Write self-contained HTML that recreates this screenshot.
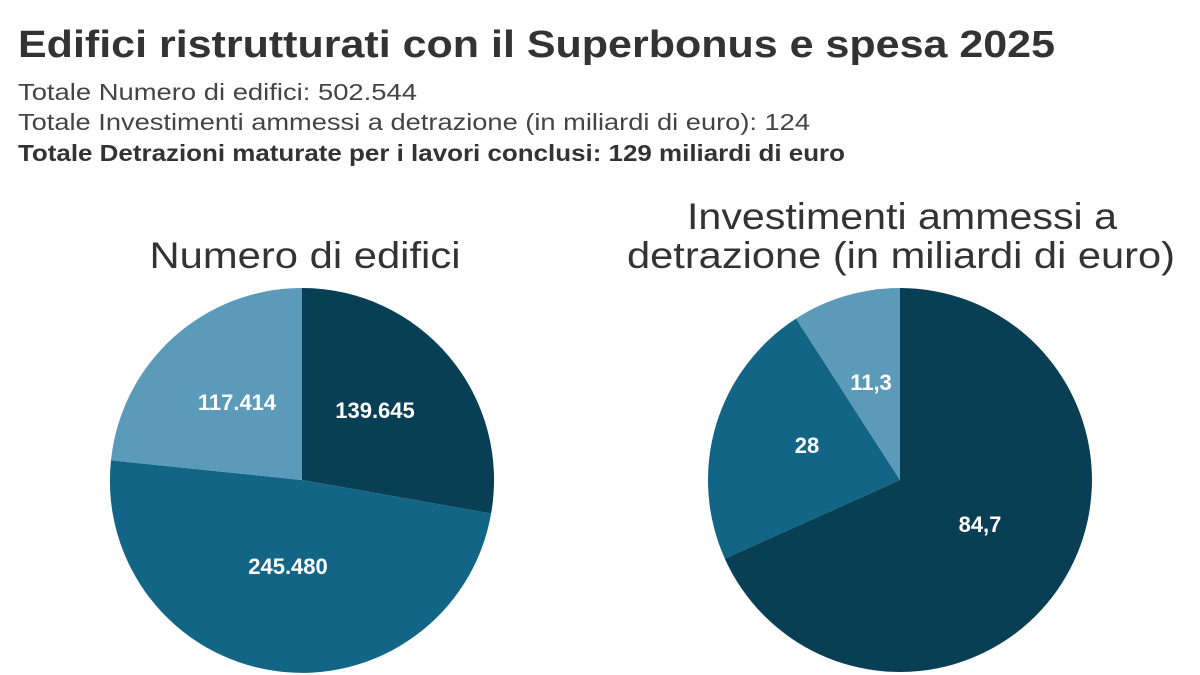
<!DOCTYPE html>
<html><head><meta charset="utf-8"><style>html,body{margin:0;padding:0;background:#fff}svg{display:block}</style></head>
<body>
<svg width="1200" height="675" viewBox="0 0 1200 675" xmlns="http://www.w3.org/2000/svg" font-family="'Liberation Sans', sans-serif">
<rect width="1200" height="675" fill="#fff"/>
<text x="18" y="57" font-size="38" font-weight="bold" fill="#333" textLength="1037" lengthAdjust="spacingAndGlyphs">Edifici ristrutturati con il Superbonus e spesa 2025</text>
<text x="18" y="100" font-size="23" fill="#444" textLength="399" lengthAdjust="spacingAndGlyphs">Totale Numero di edifici: 502.544</text>
<text x="18" y="130" font-size="23" fill="#444" textLength="792" lengthAdjust="spacingAndGlyphs">Totale Investimenti ammessi a detrazione (in miliardi di euro): 124</text>
<text x="18" y="161" font-size="23" font-weight="bold" fill="#333" textLength="827" lengthAdjust="spacingAndGlyphs">Totale Detrazioni maturate per i lavori conclusi: 129 miliardi di euro</text>

<text x="305" y="268" font-size="37" fill="#333" text-anchor="middle" textLength="311" lengthAdjust="spacingAndGlyphs">Numero di edifici</text>
<text x="902" y="229" font-size="37" fill="#333" text-anchor="middle" textLength="430" lengthAdjust="spacingAndGlyphs">Investimenti ammessi a</text>
<text x="901" y="268" font-size="37" fill="#333" text-anchor="middle" textLength="548" lengthAdjust="spacingAndGlyphs">detrazione (in miliardi di euro)</text>

<path d="M302,480 L302,288 A192,192 0 0 1 491.1,513.5 Z" fill="#083f55"/>
<path d="M302,480 L491.1,513.5 A192,192 0 0 1 111.0,460.3 Z" fill="#126585"/>
<path d="M302,480 L111.0,460.3 A192,192 0 0 1 302,288 Z" fill="#5b9ab8"/>

<path d="M900,480 L900,288 A192,192 0 1 1 724.8,558.6 Z" fill="#083f55"/>
<path d="M900,480 L724.8,558.6 A192,192 0 0 1 796.0,318.6 Z" fill="#126585"/>
<path d="M900,480 L796.0,318.6 A192,192 0 0 1 900,288 Z" fill="#5b9ab8"/>

<g font-size="22" font-weight="bold" fill="#fff" text-anchor="middle">
<text x="375" y="418">139.645</text>
<text x="237" y="410">117.414</text>
<text x="288" y="574">245.480</text>
<text x="980" y="532">84,7</text>
<text x="807" y="453">28</text>
<text x="871" y="390">11,3</text>
</g>
</svg>
</body></html>
